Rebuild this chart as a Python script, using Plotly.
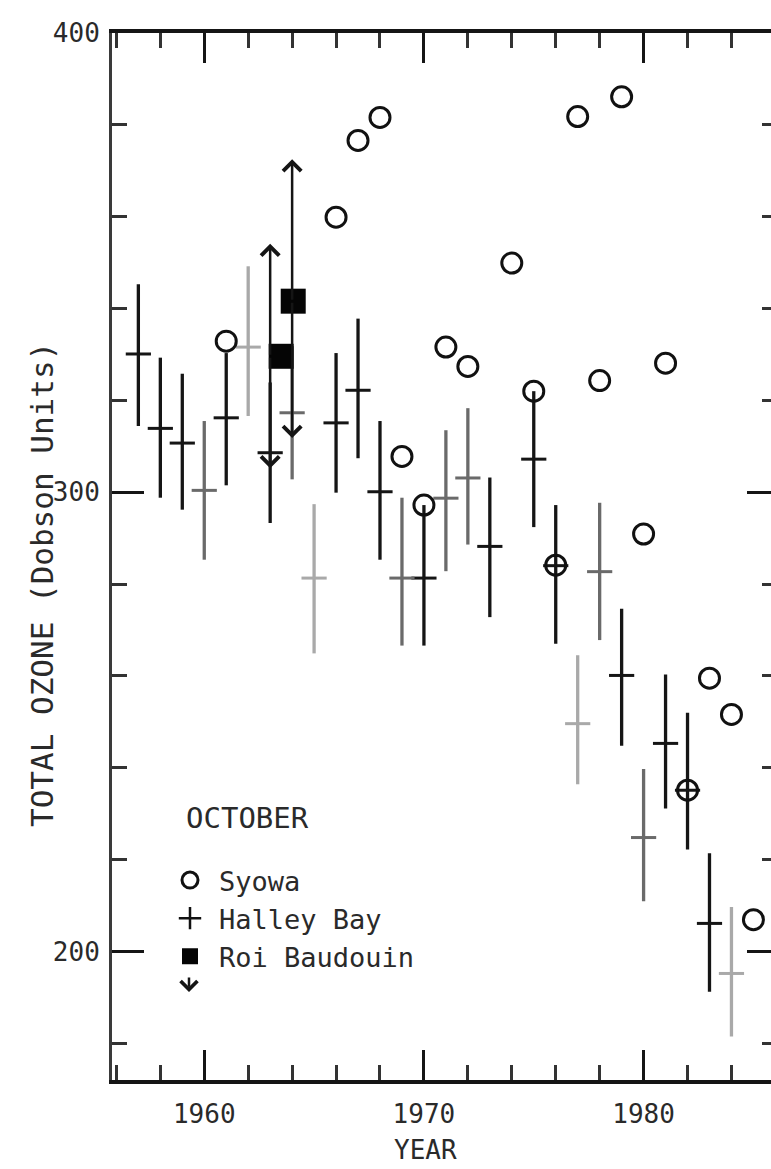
import plotly.graph_objects as go

# ---------------- data ----------------
halley_year = [1957, 1958, 1959, 1960, 1961, 1962, 1963, 1964, 1965, 1966, 1967, 1968, 1969,
               1970, 1971, 1972, 1973, 1975, 1976, 1977, 1978, 1979, 1980, 1981, 1982, 1983, 1984]
halley_mean = [330.1, 313.9, 310.7, 300.4, 316.2, 331.6, 308.6, 317.3, 281.3, 315.1, 322.2, 300.1, 281.3,
               281.3, 298.7, 303.1, 288.2, 307.2, 284.0, 249.6, 282.7, 260.1, 224.8, 245.3, 235.1, 206.1, 195.2]
halley_high = [345.3, 329.3, 325.8, 315.5, 330.3, 349.2, 323.9, 331.8, 297.4, 330.3, 337.8, 315.5, 298.8,
               297.2, 313.5, 318.3, 303.2, 322.0, 297.2, 264.5, 297.7, 274.6, 239.7, 260.3, 252.0, 221.4, 209.7]
halley_low = [314.4, 298.8, 296.2, 285.3, 301.5, 316.6, 293.3, 302.8, 264.9, 299.9, 307.4, 285.3, 266.6,
              266.6, 282.8, 288.6, 272.8, 292.4, 267.0, 236.4, 267.8, 244.8, 210.9, 231.1, 222.2, 191.2, 181.5]
# print density of each bar in the scan: k = black, m = mid grey, l = light grey
halley_shade = ["k", "k", "k", "m", "k", "l", "k", "m", "l", "k", "k", "k", "m",
                "k", "m", "m", "k", "k", "k", "l", "m", "k", "m", "k", "k", "k", "l"]

syowa_year = [1961, 1966, 1967, 1968, 1969, 1970, 1971, 1972, 1974, 1975, 1976, 1977, 1978, 1979,
              1980, 1981, 1982, 1983, 1984, 1985]
syowa_ozone = [332.9, 359.9, 376.6, 381.6, 307.8, 297.2, 331.6, 327.4, 349.9, 322.0, 284.1, 381.8, 324.3, 386.1,
               290.9, 328.1, 235.1, 259.5, 251.6, 206.9]

roi_year = [1963.5, 1964.05]
roi_ozone = [329.6, 341.6]
roi_arrow_year = [1963, 1964]
roi_arrow_up = [354.1, 372.5]
roi_arrow_down = [305.2, 311.8]

x_ticks = [1960, 1970, 1980]
y_ticks = [200, 300, 400]

# ---------------- styling ----------------
SHADES = {"k": "#151515", "m": "#6a6a6a", "l": "#a9a9a9"}
FONT = "DejaVu Sans Mono"
TXT = "#2a2a2a"
L, R, T, B = 112, 0, 33, 89
W, H = 771, 1169
PW, PH = W - L - R, H - T - B


def px_x(px):
    return (px - L) / PW


def px_y(py):
    return (H - B - py) / PH


fig = go.Figure()

# Halley Bay bars, one trace per print shade
for key, col in SHADES.items():
    idx = [i for i, s in enumerate(halley_shade) if s == key]
    fig.add_trace(go.Scatter(
        x=[halley_year[i] for i in idx],
        y=[halley_mean[i] for i in idx],
        mode="markers",
        marker=dict(symbol="line-ew", size=18, color=col, line=dict(width=3, color=col)),
        error_y=dict(type="data", symmetric=False,
                     array=[halley_high[i] - halley_mean[i] for i in idx],
                     arrayminus=[halley_mean[i] - halley_low[i] for i in idx],
                     width=0, thickness=3.3, color=col),
        showlegend=False, legendgroup="halley", hoverinfo="skip"))

# Syowa open circles
fig.add_trace(go.Scatter(
    x=syowa_year, y=syowa_ozone, mode="markers", name="Syowa", legendgroup="syowa",
    marker=dict(symbol="circle-open", size=20, color="#111", line=dict(width=3, color="#111"))))

# legend-only entry for Halley Bay
fig.add_trace(go.Scatter(
    x=[None], y=[None], mode="markers", name="Halley Bay", legendgroup="halley",
    marker=dict(symbol="cross-thin", size=20, color="#111", line=dict(width=2.5, color="#111"))))

# Roi Baudouin filled squares
fig.add_trace(go.Scatter(
    x=roi_year, y=roi_ozone, mode="markers", name="Roi Baudouin", legendgroup="roi",
    marker=dict(symbol="square", size=25, color="#050505", line=dict(width=0))))

# invisible trace carrying the right-hand tick axis
fig.add_trace(go.Scatter(x=[None], y=[None], yaxis="y2", showlegend=False, hoverinfo="skip"))

# Roi Baudouin range arrows
annotations = []
for xa, yc, yu, yd in zip(roi_arrow_year, roi_ozone, roi_arrow_up, roi_arrow_down):
    for tip in (yu, yd):
        annotations.append(dict(
            x=xa, y=tip, ax=xa, ay=yc, xref="x", yref="y", axref="x", ayref="y",
            text="", showarrow=True, arrowhead=4, arrowsize=1.4, arrowwidth=2.5,
            arrowcolor="#151515", standoff=0, startstandoff=0))

annotations.append(dict(
    text="TOTAL OZONE (Dobson Units)", textangle=-90, xref="paper", yref="paper",
    x=px_x(42), y=px_y(585), xanchor="center", yanchor="middle", showarrow=False,
    font=dict(family=FONT, size=31, color=TXT)))
annotations.append(dict(
    text="YEAR", xref="paper", yref="paper", x=px_x(425), y=px_y(1150),
    xanchor="center", yanchor="middle", showarrow=False,
    font=dict(family=FONT, size=26, color=TXT)))
annotations.append(dict(
    text="OCTOBER", xref="paper", yref="paper", x=px_x(184), y=px_y(818),
    xanchor="left", yanchor="middle", showarrow=False,
    font=dict(family=FONT, size=29, color=TXT)))
# small downward arrow under the legend square
annotations.append(dict(
    text="", xref="paper", yref="paper", x=px_x(189), y=px_y(992),
    ax=0, ay=-16, showarrow=True, arrowhead=4, arrowsize=1.3, arrowwidth=2.5,
    arrowcolor="#151515", standoff=0))

Y_RANGE = [172, 400]

fig.update_layout(
    width=W, height=H,
    margin=dict(l=L, r=R, t=T, b=B, autoexpand=False),
    paper_bgcolor="white", plot_bgcolor="white",
    font=dict(family=FONT, color=TXT),
    annotations=annotations,
    showlegend=True,
    legend=dict(
        x=px_x(161), y=px_y(856), xanchor="left", yanchor="top",
        bgcolor="rgba(0,0,0,0)", borderwidth=0,
        font=dict(family=FONT, size=27, color=TXT),
        traceorder="normal", tracegroupgap=9, itemwidth=48),
    xaxis=dict(
        range=[1955.8, 1985.8], showgrid=False, zeroline=False,
        showline=True, linecolor="#151515", linewidth=4, mirror="ticks",
        ticks="inside", tickvals=x_ticks, ticktext=[str(v) for v in x_ticks],
        ticklen=30, tickwidth=3, tickcolor="#151515",
        minor=dict(dtick=2, tick0=1956, ticks="inside", ticklen=15, tickwidth=2.5,
                   tickcolor="#333", showgrid=False),
        ticklabelstandoff=8,
        tickfont=dict(family=FONT, size=26, color=TXT)),
    yaxis=dict(
        range=Y_RANGE, showgrid=False, zeroline=False,
        showline=True, linecolor="#3a3a3a", linewidth=3,
        ticks="inside", tickvals=y_ticks, ticktext=[str(v) for v in y_ticks],
        ticklen=32, tickwidth=3, tickcolor="#151515",
        minor=dict(dtick=20, tick0=200, ticks="inside", ticklen=15, tickwidth=2.5,
                   tickcolor="#333", showgrid=False),
        ticklabelstandoff=4,
        tickfont=dict(family=FONT, size=26, color=TXT)),
    yaxis2=dict(
        range=Y_RANGE, overlaying="y", side="right", anchor="x",
        showgrid=False, zeroline=False, showline=False, showticklabels=False,
        ticks="inside", tickvals=y_ticks, ticklen=24, tickwidth=3, tickcolor="#151515",
        minor=dict(dtick=20, tick0=200, ticks="inside", ticklen=9, tickwidth=2.5,
                   tickcolor="#333", showgrid=False)),
)

fig.write_html("out.html", config={"displayModeBar": False},
               post_script="document.body.style.margin='0';")
